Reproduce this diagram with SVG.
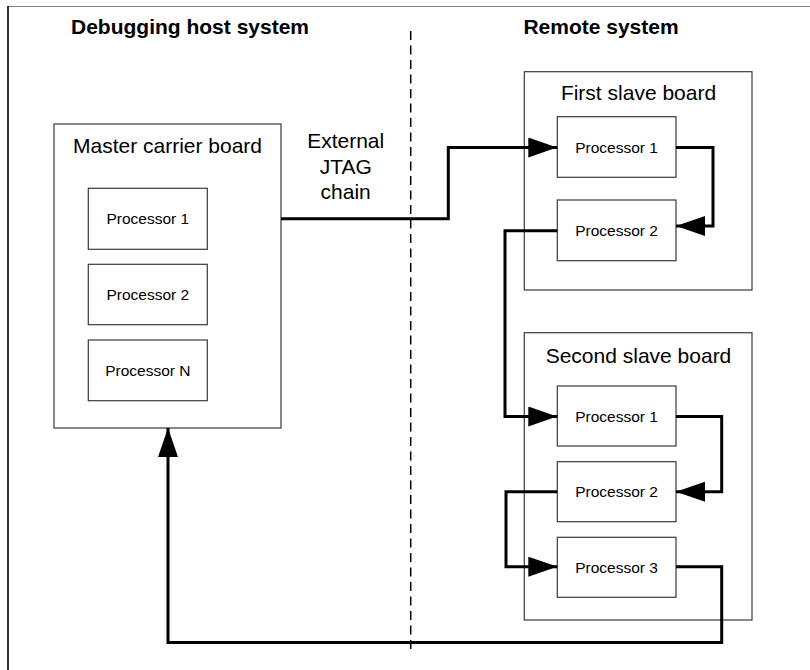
<svg xmlns="http://www.w3.org/2000/svg" width="810" height="670" viewBox="0 0 810 670">
<style>
.box{fill:#fff;stroke:#3a3a3a;stroke-width:1.2}
.ttl{font-family:"Liberation Sans",Arial,sans-serif;font-size:21px;fill:#000;text-anchor:middle}
.hdr{font-family:"Liberation Sans",Arial,sans-serif;font-size:21px;font-weight:bold;fill:#000;text-anchor:middle}
.prc{font-family:"Liberation Sans",Arial,sans-serif;font-size:15.5px;fill:#000;text-anchor:middle}
.conn{fill:none;stroke:#000;stroke-width:3;stroke-linejoin:miter}
</style>
<defs>
<marker id="arr" markerUnits="userSpaceOnUse" markerWidth="29" markerHeight="20" refX="29" refY="10" orient="auto">
<path d="M0,0 L29,10 L0,20 z" fill="#000"/>
</marker>
</defs>
<rect width="810" height="670" fill="#fff"/>
<g id="frame">
<line x1="8" y1="6.5" x2="810" y2="6.5" stroke="#808080" stroke-width="1"/>
<line x1="8" y1="6" x2="8" y2="670" stroke="#000" stroke-width="1.6"/>
</g>
<g id="headers">
<text class="hdr" x="190" y="34">Debugging host system</text>
<text class="hdr" x="601" y="34">Remote system</text>
</g>
<line id="divider" x1="410.7" y1="31" x2="410.7" y2="652" stroke="#000" stroke-width="1.5" stroke-dasharray="9 5.5"/>
<g id="master">
<rect class="box" x="54" y="124" width="227" height="304"/>
<text class="ttl" x="167.5" y="153">Master carrier board</text>
</g>
<g id="m-p1"><rect class="box" x="88.3" y="188.3" width="119" height="61"/><text class="prc" x="147.8" y="224.3">Processor 1</text></g>
<g id="m-p2"><rect class="box" x="88.3" y="264.3" width="119" height="60.4"/><text class="prc" x="147.8" y="300">Processor 2</text></g>
<g id="m-pn"><rect class="box" x="88.3" y="340" width="119" height="60.7"/><text class="prc" x="147.8" y="375.8">Processor N</text></g>
<g id="slave1">
<rect class="box" x="524.3" y="71.7" width="227.7" height="218.3"/>
<text class="ttl" x="638.5" y="100">First slave board</text>
</g>
<g id="s1-p1"><rect class="box" x="557.3" y="116.7" width="118.7" height="60.6"/><text class="prc" x="616.6" y="152.5">Processor 1</text></g>
<g id="s1-p2"><rect class="box" x="557.3" y="200" width="118.7" height="60.7"/><text class="prc" x="616.6" y="235.8">Processor 2</text></g>
<g id="slave2">
<rect class="box" x="524.3" y="332.7" width="227.7" height="287.3"/>
<text class="ttl" x="638.5" y="363.3">Second slave board</text>
</g>
<g id="s2-p1"><rect class="box" x="557.3" y="386" width="118.7" height="60"/><text class="prc" x="616.6" y="421.5">Processor 1</text></g>
<g id="s2-p2"><rect class="box" x="557.3" y="461.7" width="118.7" height="60"/><text class="prc" x="616.6" y="497.2">Processor 2</text></g>
<g id="s2-p3"><rect class="box" x="557.3" y="537.3" width="118.7" height="60"/><text class="prc" x="616.6" y="572.8">Processor 3</text></g>
<g id="jtag-label">
<text class="ttl" x="345.7" y="148.3">External</text>
<text class="ttl" x="345.7" y="174">JTAG</text>
<text class="ttl" x="345.7" y="199.3">chain</text>
</g>
<g id="connectors">
<path class="conn" d="M281 218.7 H448.3 V147.5 H557.3" marker-end="url(#arr)"/>
<path class="conn" d="M676 147.5 H713 V226 H676" marker-end="url(#arr)"/>
<path class="conn" d="M557.3 230.7 H505 V416.5 H557.3" marker-end="url(#arr)"/>
<path class="conn" d="M676 416.5 H721.7 V491.7 H676" marker-end="url(#arr)"/>
<path class="conn" d="M557.3 491.7 H506 V566.7 H557.3" marker-end="url(#arr)"/>
<path class="conn" d="M676 566.7 H721.7 V642.5 H168 V428" marker-end="url(#arr)"/>
</g>
</svg>
